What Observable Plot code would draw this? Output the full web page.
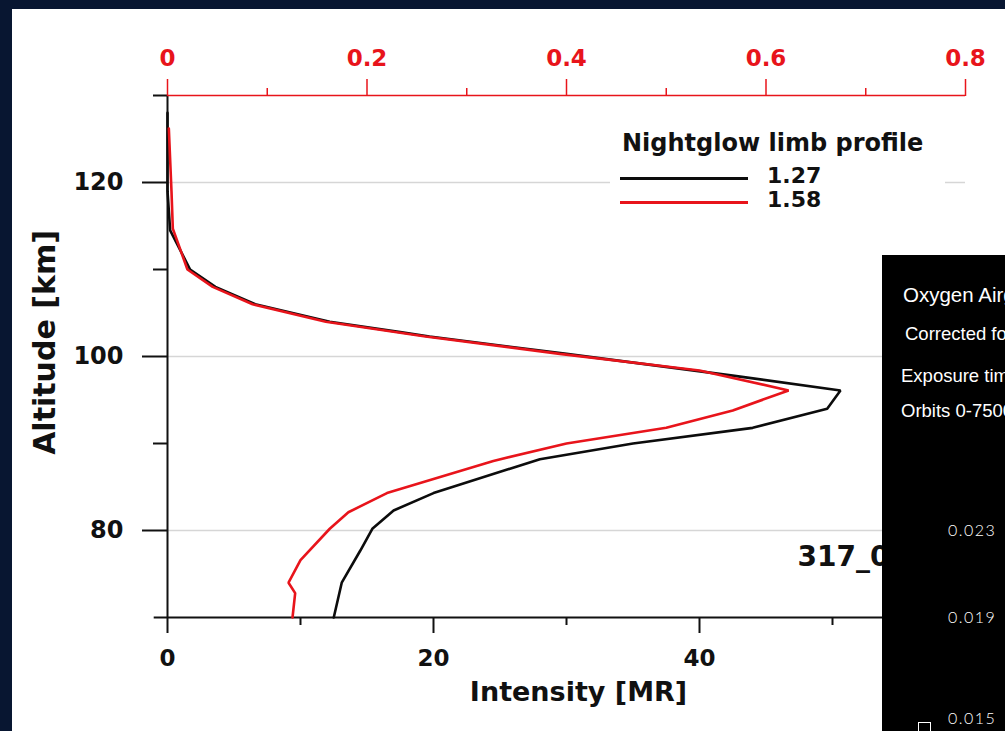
<!DOCTYPE html>
<html><head><meta charset="utf-8">
<script src="https://cdn.jsdelivr.net/npm/d3@7"></script>
<script src="https://cdn.jsdelivr.net/npm/@observablehq/plot@0.6"></script>
<style>
body{margin:0;background:#081631;}
#wrap{position:relative;width:1005px;height:731px;overflow:hidden;}
#white{position:absolute;left:12px;top:9px;right:0;bottom:0;background:#fff;}
#chart{position:absolute;left:0;top:0;}
#legend{position:absolute;left:610px;top:124px;width:335px;height:92px;background:#fff;font-family:"DejaVu Sans",sans-serif;font-weight:bold;color:#111;}
#legend .title{position:absolute;left:12px;top:5px;font-size:24px;white-space:nowrap;}
#legend .row{position:absolute;left:10px;height:0;}
#legend .sw{position:absolute;left:0;width:128px;height:0;border-top:3px solid #000;}
#legend .lab{position:absolute;left:147px;font-size:22px;line-height:20px;top:-11px;}
#panel{position:absolute;left:882px;top:255px;width:123px;height:476px;background:#000;color:#fff;font-family:"Liberation Sans",Arial,sans-serif;overflow:hidden;}
#panel div{position:absolute;white-space:nowrap;}
</style></head>
<body><div id="wrap"><div id="white"></div><div id="chart"></div><div id="legend"></div><div id="panel"></div></div>
<script>
// Altitude (km) and intensity (MR)
const alt127 = [128, 119, 114.5, 110, 108, 106, 104, 102.8, 102.3, 100.3, 97.8, 96.1, 94, 91.8, 90, 88.2, 84.3, 82.3, 80.2, 77.7, 74, 70];
const int127 = [0.0, 0.0, 0.2, 1.7, 3.6, 6.6, 12.2, 17.5, 19.7, 30, 42.5, 50.6, 49.6, 44, 35, 28, 20, 17, 15.4, 14.5, 13.1, 12.5];
const alt158 = [126.2, 119, 114.7, 110, 108, 106, 104, 102.3, 100.3, 98.4, 96.1, 93.8, 91.8, 90, 88, 84.3, 82.1, 80.2, 76.6, 74, 72.8, 70];
const int158 = [0.1, 0.3, 0.4, 1.5, 3.4, 6.4, 11.9, 19.4, 29.5, 40, 46.7, 42.5, 37.5, 30, 24.5, 16.5, 13.6, 12.2, 10, 9.1, 9.6, 9.4];
const seriesNames = ["1.27", "1.58"];
const seriesColors = ["#0c0c0c", "#e8141b"];
const legendTitle = "Nightglow limb profile";

const altMajor = [80, 100, 120];
const altMinor = [90, 110, 130];
const mrMajor = [0, 20, 40];
const mrMinor = [10, 30, 50];
const topMajor = [0, 0.2, 0.4, 0.6, 0.8];
const topMinor = [0.1, 0.3, 0.5, 0.7];
const topRatio = 75; // MR per top-axis unit
const xDomain = [0, 60];
const yDomain = [70, 130];
const axisStart = -1;

const panelTexts = ["Oxygen Airglow", "Corrected for", "Exposure time", "Orbits 0-7500"];
const panelTicks = ["0.023", "0.019", "0.015"];

const data = [
  ...alt127.map((a, i) => ({series: seriesNames[0], alt: a, mr: int127[i]})),
  ...alt158.map((a, i) => ({series: seriesNames[1], alt: a, mr: int158[i]}))
];
const red = seriesColors[1];

const plot = Plot.plot({
  width: 1005, height: 731,
  marginLeft: 167, marginRight: 40, marginTop: 95, marginBottom: 114,
  style: {background: "transparent", fontFamily: "DejaVu Sans, sans-serif", fontWeight: "bold", color: "#111", overflow: "visible"},
  x: {domain: xDomain},
  y: {domain: yDomain},
  color: {domain: seriesNames, range: seriesColors},
  marks: [
    Plot.gridY(altMajor, {stroke: "#d6d6d6", strokeOpacity: 1, strokeWidth: 1.5}),
    Plot.ruleY([yDomain[0]], {x1: axisStart, x2: xDomain[1], stroke: "#111", strokeWidth: 2}),
    Plot.ruleX([0], {y1: yDomain[0], y2: yDomain[1], stroke: "#111", strokeWidth: 2}),
    Plot.ruleY([yDomain[1]], {x1: 0, x2: xDomain[1], stroke: red, strokeWidth: 1.5}),
    Plot.axisY({ticks: altMajor, tickSize: 25, tickPadding: 19, fontSize: 24, label: null, strokeWidth: 2}),
    Plot.axisY({ticks: altMinor, tickSize: 14, text: null, label: null, strokeWidth: 2}),
    Plot.axisX({ticks: mrMajor, tickSize: 16, tickPadding: 16, fontSize: 23, label: null, strokeWidth: 2}),
    Plot.axisX({ticks: mrMinor, tickSize: 8, text: null, label: null, strokeWidth: 2}),
    Plot.axisX({anchor: "top", ticks: topMajor.map(v => v * topRatio), tickFormat: d => String(+(d / topRatio).toFixed(1)),
      tickSize: 17, tickPadding: 13, fontSize: 23, label: null, color: red, strokeWidth: 1.5}),
    Plot.axisX({anchor: "top", ticks: topMinor.map(v => v * topRatio), tickSize: 8, text: null, label: null, color: red, strokeWidth: 1.5}),
    Plot.line(data, {x: "mr", y: "alt", z: "series", stroke: "series", strokeWidth: 2.6, strokeLinejoin: "miter"}),
    Plot.text(["Altitude [km]"], {frameAnchor: "left", textAnchor: "middle", dx: -122, dy: -14, rotate: -90, fontSize: 30, fill: "#111"}),
    Plot.text(["Intensity [MR]"], {frameAnchor: "bottom", textAnchor: "middle", dx: 12, dy: 83, fontSize: 27, fill: "#111"}),
    Plot.text(["317_0"], {frameAnchor: "bottom-left", dx: 630, dy: -52, textAnchor: "start", fontSize: 28, fill: "#111"})
  ]
});
document.getElementById("chart").appendChild(plot);

// Legend
const lg = document.getElementById("legend");
const t = document.createElement("div"); t.className = "title"; t.textContent = legendTitle; lg.appendChild(t);
const rowTops = [53, 77];
seriesNames.forEach((s, i) => {
  const r = document.createElement("div"); r.className = "row"; r.style.top = rowTops[i] + "px";
  const sw = document.createElement("div"); sw.className = "sw"; sw.style.borderTopColor = seriesColors[i];
  const lb = document.createElement("div"); lb.className = "lab"; lb.textContent = s;
  r.appendChild(sw); r.appendChild(lb); lg.appendChild(r);
});

// Overlapping dark panel
const pn = document.getElementById("panel");
const textTops = [28, 68, 110, 145];
const textLefts = [21, 23, 19, 19];
const textSizes = [20.5, 18.5, 18.5, 18.5];
panelTexts.forEach((s, i) => {
  const d = document.createElement("div"); d.textContent = s;
  d.style.left = textLefts[i] + "px"; d.style.top = textTops[i] + "px"; d.style.fontSize = textSizes[i] + "px";
  pn.appendChild(d);
});
const tickTops = [265, 352, 453];
panelTicks.forEach((s, i) => {
  const d = document.createElement("div"); d.textContent = s;
  d.style.left = "66px"; d.style.top = tickTops[i] + "px"; d.style.fontSize = "16px";
  d.style.fontFamily = "Lato, sans-serif"; d.style.fontWeight = "300"; d.style.letterSpacing = "1.5px";
  pn.appendChild(d);
});
const br = document.createElement("div");
br.style.left = "36px"; br.style.top = "467px"; br.style.width = "11px"; br.style.height = "12px";
br.style.borderTop = "1.5px solid #fff"; br.style.borderLeft = "1.5px solid #fff"; br.style.borderRight = "1.5px solid #fff";
pn.appendChild(br);
</script>
</body></html>
